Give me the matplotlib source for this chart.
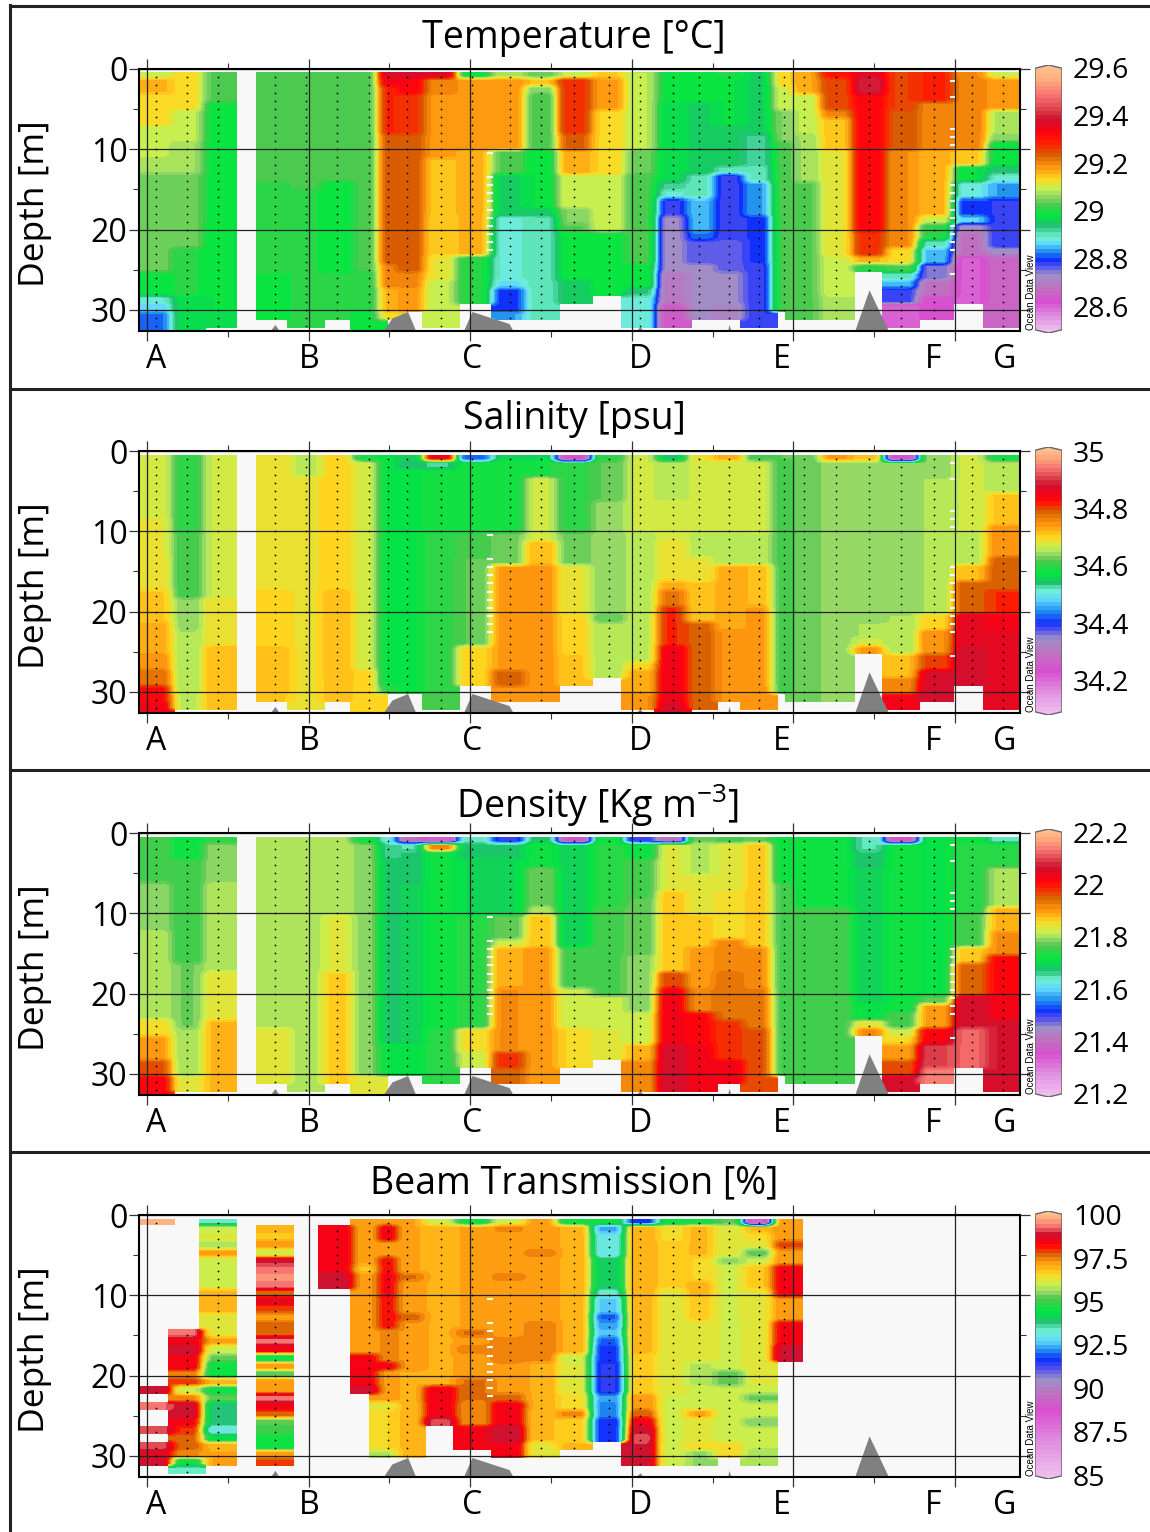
import numpy as np
import matplotlib
matplotlib.use('Agg')
import matplotlib.pyplot as plt
from matplotlib.colors import LinearSegmentedColormap
from matplotlib.lines import Line2D
from matplotlib.patches import Polygon

plt.rcParams['font.family'] = ['Open Sans', 'DejaVu Sans']
plt.rcParams['mathtext.default'] = 'regular'

W, H = 1150, 1532
n = float('nan')

# station positions along the section (km)
station_km = [5.6, 24.8, 44.2, 79.2, 98.4, 117.6, 137.4, 149.1, 160.9, 181.9, 201.1, 224.6, 243.8, 264.2,
              285.9, 305.1, 325.5, 341.3, 360.1, 378.7, 394.2, 406.6, 426.4, 446.8, 466.6, 487.3, 510.5, 529.4]
section_names = ['A', 'B', 'C', 'D', 'E', 'F', 'G']
section_km = [5.6, 100.5, 201.1, 305.1, 393.0, 486.5, 530.5]

# sea floor outline
bottom_km = [0, 74.9, 79.2, 82.9, 144.8, 151.6, 161.3, 167.1, 194.9, 201.1, 224.0, 227.7, 300.5, 305.1, 308.5,
             358.9, 360.1, 362.0, 437.2, 446.8, 459.8, 540]
bottom_depth = [33, 33, 31.8, 33, 33, 31.0, 30.2, 33, 33, 30.2, 31.7, 33, 33, 32.1, 33,
                33, 31.8, 33, 33, 27.5, 33, 33]

# small unfilled slits in the gridded field
slit_c_km = 212.3
slit_c_depth = [10.5, 13.5, 14.5, 15.5, 16.5, 17.5, 18.5, 19.5, 20.5, 21.5, 22.5]
slit_f_km = 498.8
slit_f_depth = [1.5, 3.5, 7.5, 8.5, 9.5, 14.5, 15.5, 16.5, 17.5, 18.5, 19.5, 20.5, 21.5, 22.5, 25.5]

# each station: (deepest row in m, value) runs, rows are 1 m thick
temperature = [
    [(1, 29.09), (3, 29.16), (7, 29.13), (11, 29.09), (13, 29.07), (25, 29.04), (28, 28.99), (29, 28.89), (30, 28.86), (33, 28.82)],
    [(5, 29.13), (9, 29.09), (13, 29.07), (22, 29.04), (28, 29.0), (33, 28.97)],
    [(4, 29.03), (19, 28.99), (30, 28.98), (32, 28.97)],
    [(14, 29.02), (25, 29.01), (31, 28.995)],
    [(15, 29.02), (32, 29.0)],
    [(14, 29.02), (25, 28.985), (31, 29.0)],
    [(25, 29.02), (30, 29.0), (33, 28.99)],
    [(1, 29.38), (2, 29.34), (8, 29.28), (24, 29.24), (27, 29.2), (30, 29.16), (31, 29.13)],
    [(1, 29.38), (3, 29.33), (8, 29.27), (25, 29.24), (27, 29.2), (30, 29.18)],
    [(1, 29.37), (3, 29.2), (11, 29.185), (18, 29.15), (23, 29.14), (26, 29.12), (32, 29.09)],
    [(1, 28.99), (10, 29.185), (23, 29.16), (29, 29.0)],
    [(1, 29.08), (10, 29.185), (13, 29.03), (18, 28.96), (26, 28.89), (27, 28.87), (30, 28.8), (31, 28.84)],
    [(1, 29.04), (2, 29.15), (3, 29.05), (10, 29.02), (17, 28.98), (18, 28.95), (31, 28.9)],
    [(1, 29.09), (8, 29.27), (10, 29.23), (13, 29.17), (17, 29.1), (19, 29.05), (20, 29.03), (26, 28.99), (29, 28.95)],
    [(1, 29.14), (5, 29.18), (13, 29.135), (20, 29.1), (28, 28.99)],
    [(10, 29.085), (13, 29.04), (24, 29.02), (27, 28.99), (28, 28.93), (32, 28.89)],
    [(4, 28.99), (14, 28.97), (15, 28.92), (16, 28.89), (18, 28.78), (25, 28.725), (29, 28.69), (32, 28.63)],
    [(4, 28.99), (13, 28.96), (16, 28.9), (20, 28.85), (21, 28.82), (24, 28.77), (31, 28.72)],
    [(1, 29.0), (7, 28.98), (12, 28.95), (13, 28.9), (21, 28.78), (25, 28.76), (29, 28.73), (31, 28.71)],
    [(8, 28.96), (12, 28.92), (14, 28.9), (18, 28.84), (24, 28.79), (32, 28.78)],
    [(2, 29.13), (5, 29.1), (9, 29.05), (30, 29.02)],
    [(3, 29.17), (8, 29.09), (14, 29.07), (31, 29.03)],
    [(1, 29.3), (5, 29.25), (6, 29.2), (10, 29.15), (23, 29.12), (28, 29.1), (31, 29.08)],
    [(1, 29.36), (3, 29.4), (20, 29.33), (23, 29.27), (24, 29.16), (25, 29.0)],
    [(5, 29.26), (10, 29.24), (22, 29.19), (24, 29.13), (25, 29.03), (26, 28.9), (27, 28.85), (29, 28.78), (32, 28.6)],
    [(4, 29.28), (10, 29.2), (18, 29.16), (19, 29.1), (21, 29.0), (22, 28.9), (24, 28.85), (26, 28.75), (28, 28.68), (31, 28.62)],
    [(1, 29.19), (10, 29.2), (12, 29.14), (14, 28.98), (16, 28.88), (18, 28.8), (19, 28.86), (20, 28.72), (23, 28.68), (29, 28.61)],
    [(1, 29.1), (5, 29.18), (8, 29.08), (9, 29.05), (12, 28.98), (13, 28.94), (14, 28.89), (16, 28.84), (22, 28.785), (23, 28.72), (32, 28.66)],
]

salinity = [
    [(8, 34.67), (13, 34.68), (17, 34.69), (21, 34.71), (25, 34.73), (27, 34.75), (29, 34.78), (31, 34.83), (33, 34.85)],
    [(10, 34.6), (18, 34.61), (22, 34.64), (30, 34.65), (32, 34.66)],
    [(18, 34.665), (24, 34.69), (32, 34.72)],
    [(17, 34.69), (24, 34.7), (30, 34.715), (31, 34.71)],
    [(3, 34.66), (32, 34.69)],
    [(17, 34.7), (28, 34.72), (31, 34.715)],
    [(1, 34.58), (27, 34.67), (33, 34.7)],
    [(29, 34.57), (30, 34.6)],
    [(1, 34.55), (2, 34.54), (30, 34.575)],
    [(1, 34.85), (2, 34.53), (10, 34.58), (30, 34.6), (32, 34.61)],
    [(1, 34.42), (10, 34.58), (13, 34.61), (24, 34.62), (29, 34.7)],
    [(1, 34.55), (10, 34.585), (14, 34.63), (27, 34.74), (29, 34.79), (31, 34.75)],
    [(1, 34.555), (3, 34.59), (11, 34.667), (14, 34.72), (31, 34.745)],
    [(1, 34.23), (10, 34.6), (14, 34.63), (20, 34.68), (25, 34.7), (29, 34.71)],
    [(1, 34.6), (6, 34.62), (20, 34.64), (21, 34.62), (28, 34.65)],
    [(10, 34.665), (20, 34.655), (26, 34.66), (27, 34.7), (30, 34.73), (32, 34.75)],
    [(1, 34.54), (6, 34.66), (11, 34.675), (16, 34.69), (17, 34.73), (19, 34.77), (24, 34.81), (31, 34.85), (33, 34.87)],
    [(1, 34.69), (10, 34.665), (13, 34.66), (16, 34.68), (21, 34.71), (32, 34.79)],
    [(1, 34.73), (10, 34.665), (14, 34.65), (22, 34.73), (31, 34.75)],
    [(1, 34.61), (10, 34.67), (14, 34.66), (19, 34.72), (29, 34.74), (32, 34.75)],
    [(1, 34.62), (30, 34.612)],
    [(1, 34.62), (31, 34.625)],
    [(1, 34.74), (31, 34.642)],
    [(1, 34.71), (21, 34.645), (23, 34.65), (24, 34.67), (25, 34.74)],
    [(1, 34.23), (20, 34.64), (25, 34.65), (28, 34.72), (30, 34.76), (32, 34.85)],
    [(3, 34.64), (20, 34.65), (22, 34.7), (25, 34.75), (27, 34.8), (29, 34.87), (31, 34.88)],
    [(10, 34.665), (14, 34.66), (16, 34.72), (20, 34.79), (24, 34.86), (29, 34.88)],
    [(1, 34.58), (5, 34.66), (9, 34.71), (13, 34.75), (17, 34.79), (20, 34.81), (22, 34.84), (32, 34.86)],
]

density = [
    [(6, 21.76), (12, 21.79), (23, 21.81), (25, 21.86), (28, 21.9), (30, 21.96), (33, 22.02)],
    [(3, 21.72), (16, 21.75), (24, 21.78), (30, 21.8), (32, 21.83)],
    [(1, 21.74), (6, 21.79), (17, 21.81), (23, 21.84), (32, 21.88)],
    [(24, 21.805), (31, 21.84)],
    [(32, 21.805)],
    [(10, 21.805), (17, 21.83), (31, 21.865)],
    [(1, 21.72), (30, 21.79), (33, 21.84)],
    [(1, 21.63), (3, 21.66), (26, 21.68), (30, 21.715)],
    [(1, 21.4), (2, 21.65), (6, 21.67), (26, 21.685), (30, 21.71)],
    [(1, 21.33), (2, 21.92), (24, 21.72), (31, 21.74)],
    [(1, 21.64), (3, 21.68), (10, 21.7), (24, 21.74), (27, 21.85), (29, 21.82)],
    [(1, 21.5), (3, 21.68), (10, 21.7), (13, 21.77), (14, 21.82), (19, 21.89), (27, 21.91), (29, 21.98), (31, 21.95)],
    [(1, 21.68), (4, 21.72), (9, 21.78), (10, 21.81), (14, 21.87), (31, 21.9)],
    [(1, 21.36), (14, 21.69), (19, 21.76), (24, 21.82), (29, 21.86)],
    [(1, 21.72), (9, 21.74), (20, 21.76), (24, 21.82), (28, 21.83)],
    [(1, 21.5), (3, 21.72), (8, 21.76), (15, 21.77), (22, 21.79), (26, 21.82), (28, 21.88), (32, 21.91)],
    [(1, 21.4), (7, 21.83), (17, 21.87), (19, 21.97), (26, 22.03), (32, 22.07)],
    [(1, 21.78), (5, 21.81), (10, 21.84), (14, 21.87), (19, 21.9), (22, 21.92), (26, 22.01), (32, 22.03)],
    [(1, 21.76), (7, 21.83), (13, 21.85), (17, 21.92), (23, 21.94), (28, 21.98), (31, 22.03)],
    [(1, 21.77), (14, 21.87), (19, 21.91), (24, 21.93), (32, 21.96)],
    [(6, 21.72), (30, 21.76)],
    [(9, 21.72), (31, 21.76)],
    [(9, 21.72), (31, 21.76)],
    [(2, 21.65), (4, 21.67), (21, 21.69), (23, 21.715), (24, 21.84), (25, 21.91)],
    [(1, 21.35), (22, 21.72), (24, 21.76), (25, 21.82), (26, 21.86), (28, 21.9), (30, 21.96), (32, 22.06)],
    [(20, 21.715), (21, 21.77), (24, 21.9), (26, 22.02), (29, 22.1), (31, 22.14)],
    [(1, 21.72), (10, 21.74), (14, 21.76), (16, 21.87), (20, 21.95), (24, 22.07), (29, 22.12)],
    [(1, 21.64), (4, 21.74), (9, 21.8), (12, 21.88), (15, 21.91), (20, 22.01), (23, 22.03), (32, 22.07)],
]

beam = [
    [(1, 99.8), (21, n), (22, 99.0), (23, n), (24, 99.3), (26, n), (27, 99.2), (28, n), (29, 99.2), (30, 98.6), (31, 98.9)],
    [(14, n), (15, 99.4), (16, 98.5), (17, 98.9), (19, 98.5), (20, 97.5), (21, 97.9), (22, 96.0), (23, 97.4), (25, 98.9), (26, 98.4), (27, 98.0), (29, 97.7), (30, 97.4), (31, 94.5), (32, 93.3)],
    [(1, 93.3), (2, 96.0), (3, 96.2), (4, 95.7), (5, 97.2), (9, 96.1), (12, 97.0), (15, 96.3), (16, 97.2), (17, 96.1), (18, 95.3), (20, 94.5), (21, 97.0), (22, 94.5), (23, 95.2), (26, 93.9), (27, 93.0), (28, 94.4), (29, 97.0), (31, 97.1)],
    [(1, n), (2, 96.9), (3, 96.8), (4, 97.3), (5, 96.1), (6, 99.0), (7, 99.3), (8, 99.6), (9, 99.4), (10, 97.8), (11, 98.6), (12, 97.9), (13, 97.2), (15, 97.8), (16, 99.3), (17, 98.3), (18, 94.5), (19, 97.3), (20, 95.2), (22, 97.3), (23, 99.3), (24, 98.5), (25, 97.8), (26, 95.2), (27, 95.0), (29, 94.6), (30, 97.2), (31, 97.9)],
    [],
    [(1, n), (7, 98.5), (9, 99.0)],
    [(6, 97.1), (7, 96.8), (17, 97.2), (21, 98.4), (22, 99.0)],
    [(1, 97.1), (3, 98.5), (5, 97.3), (7, 98.3), (10, 98.4), (14, 98.3), (18, 97.4), (19, 98.5), (23, 97.2), (24, 96.3), (29, 96.6), (30, 95.8)],
    [(7, 97.1), (8, 97.6), (12, 97.2), (13, 97.7), (19, 97.3), (23, 97.05), (30, 96.95)],
    [(1, 96.0), (21, 97.05), (25, 98.5), (26, 99.2)],
    [(1, 94.6), (14, 97.1), (15, 97.6), (16, 97.2), (17, 97.5), (20, 97.2), (23, 97.6), (26, 97.4), (29, 98.5)],
    [(1, 96.1), (2, 97.4), (7, 97.2), (8, 97.5), (15, 97.2), (18, 97.5), (22, 97.3), (23, 97.7), (26, 98.5), (28, 99.0), (30, 98.5)],
    [(4, 97.2), (5, 97.5), (13, 97.2), (18, 97.5), (24, 97.05), (28, 96.9), (30, 96.3)],
    [(1, 94.5), (17, 97.05), (18, 96.0), (22, 96.2), (24, 96.5), (25, 97.4), (28, 96.7), (29, 96.9)],
    [(1, 94.6), (2, 92.4), (5, 93.0), (9, 94.0), (10, 93.3), (12, 92.7), (13, 92.0), (14, 92.3), (15, 92.6), (16, 92.0), (18, 91.7), (22, 91.5), (23, 92.3), (25, 92.2), (28, 91.6)],
    [(1, 91.6), (10, 97.05), (17, 96.95), (22, 96.7), (24, 97.3), (25, 97.8), (26, 98.5), (27, 98.9), (28, 99.2), (31, 99.0)],
    [(1, 94.5), (3, 96.5), (9, 96.7), (22, 96.2), (31, 96.1)],
    [(1, 94.5), (5, 96.9), (8, 96.6), (10, 97.0), (13, 96.7), (18, 96.3), (21, 95.8), (24, 96.1), (25, 97.1), (28, 96.2), (29, 96.6), (31, 95.6)],
    [(1, 95.2), (5, 96.2), (6, 95.6), (19, 96.1), (21, 95.3), (28, 96.0), (30, 96.5)],
    [(1, 88.2), (2, 96.9), (3, 96.5), (4, 96.2), (5, 95.2), (6, 96.0), (9, 96.8), (13, 96.3), (21, 96.2), (22, 96.0), (23, 95.3), (25, 96.0), (26, 95.4), (29, 95.9), (31, 95.7)],
    [(3, 97.3), (4, 97.9), (6, 97.3), (10, 98.4), (13, 97.3), (16, 98.4), (18, 98.9)],
    [], [], [], [], [], [], [],
]

titles = ['Temperature [°C]', 'Salinity [psu]', 'Density [Kg m$^{-3}$]', 'Beam Transmission [%]']
panels = [temperature, salinity, density, beam]
bar_ticks = [[29.6, 29.4, 29.2, 29, 28.8, 28.6],
             [35, 34.8, 34.6, 34.4, 34.2],
             [22.2, 22, 21.8, 21.6, 21.4, 21.2],
             [100, 97.5, 95, 92.5, 90, 87.5, 85]]
bar_labels = [['29.6', '29.4', '29.2', '29', '28.8', '28.6'],
              ['35', '34.8', '34.6', '34.4', '34.2'],
              ['22.2', '22', '21.8', '21.6', '21.4', '21.2'],
              ['100', '97.5', '95', '92.5', '90', '87.5', '85']]
bar_range = [(28.49, 29.61), (34.08, 35.014), (21.185, 22.215), (84.77, 100.23)]

cmap_colors = ['#f0c0f0', '#e090e0', '#d850d0', '#c070c0', '#a090c8', '#5050f0', '#1030ff', '#2090f0', '#60d8ff',
               '#70f0d0', '#20c070', '#00e840', '#50c850', '#90d868', '#c8f050', '#ffd820', '#ff9810', '#d86000',
               '#ff2000', '#ff0010', '#d01030', '#e04850', '#f87070', '#ffb080', '#ffc090']
cmap_stops = [
    [0, .055, .11, .16, .21, .245, .27, .30, .33, .355, .40, .44, .478, .51, .54, .575, .62, .665, .71, .755, .80, .845, .89, .955, 1],
    [0, .08, .155, .22, .28, .315, .342, .385, .43, .466, .49, .528, .578, .60, .627, .665, .714, .764, .79, .814, .863, .895, .925, .975, 1],
    [0, .08, .155, .205, .255, .29, .32, .36, .40, .44, .47, .515, .565, .59, .615, .658, .70, .75, .785, .814, .863, .895, .925, .975, 1],
    [0, .13, .255, .31, .366, .41, .447, .48, .515, .553, .59, .627, .677, .70, .727, .77, .814, .845, .865, .882, .92, .935, .95, .98, 1],
]

panel_top = [69, 451, 833, 1215]
title_x = [574, 574, 598, 574]
title_y = [38, 419, 805, 1183]

AX_LEFT, AX_RIGHT, AX_H = 139, 1020, 262
PX_PER_KM = 1.616
KM0 = 147
XLIM = ((AX_LEFT - KM0) / PX_PER_KM, (AX_RIGHT - KM0) / PX_PER_KM)
YLIM = (AX_H / 8.03, 0)
REACH_KM = 11.8


def rows_from_runs(runs, nrows=33):
    col = np.full(nrows, np.nan)
    top = 0
    for last, val in runs:
        col[top:last] = val
        top = last
    return col


def smooth(field, size, axis):
    # box smoothing that does not leak over the empty cells
    kernel = np.ones(size)
    ok = ~np.isnan(field)
    filled = np.where(ok, field, 0.0)
    top = np.apply_along_axis(np.convolve, axis, filled, kernel, mode='same')
    bot = np.apply_along_axis(np.convolve, axis, ok.astype(float), kernel, mode='same')
    with np.errstate(invalid='ignore', divide='ignore'):
        out = top / bot
    out[~ok] = np.nan
    return out


def make_field(stations):
    table = np.array([rows_from_runs(s) for s in stations])
    stn_km = np.array(station_km)
    nx, ny = AX_RIGHT - AX_LEFT, AX_H
    km = XLIM[0] + (np.arange(nx) + .5) / nx * (XLIM[1] - XLIM[0])
    depth = (np.arange(ny) + .5) / ny * YLIM[0]
    field = np.full((ny, nx), np.nan)
    for j in range(ny):
        if depth[j] < .5:
            continue
        # rows sit slightly above their nominal depth in the gridded picture
        row = min(int(np.round(depth[j] + .25)) - 1, 32)
        valid = ~np.isnan(table[:, row])
        if not valid.any():
            continue
        # each pixel takes the nearest station that has a sample at this depth
        near = np.abs(km[:, None] - stn_km[valid][None, :]).argmin(axis=1)
        line = table[valid, row][near]
        line[np.abs(km - stn_km[valid][near]) > REACH_KM] = np.nan
        field[j] = line
    field = smooth(smooth(field, 11, 1), 11, 1)
    field = smooth(field, 5, 0)
    return field, table


fig = plt.figure(figsize=(W / 100, H / 100), dpi=100)

for i in range(4):
    top = panel_top[i]
    ax = fig.add_axes([AX_LEFT / W, 1 - (top + AX_H) / H, (AX_RIGHT - AX_LEFT) / W, AX_H / H])
    ax.set_facecolor('#f8f8f8')
    vmin, vmax = bar_range[i]
    cmap = LinearSegmentedColormap.from_list('odv%d' % i, list(zip(cmap_stops[i], cmap_colors)), N=64)

    field, table = make_field(panels[i])
    ax.imshow(field, extent=[XLIM[0], XLIM[1], YLIM[0], 0], aspect='auto', cmap=cmap, vmin=vmin, vmax=vmax,
              interpolation='nearest', zorder=1)
    ax.fill_between(bottom_km, bottom_depth, 33, color='#808080', lw=0, zorder=2)

    # white slits, the one near F only shows where that part of the section has data
    ax.scatter([slit_c_km] * len(slit_c_depth), slit_c_depth, s=14, c='white', marker='_', lw=1.5, zorder=2.2)
    if i < 3:
        ax.scatter([slit_f_km] * len(slit_f_depth), slit_f_depth, s=14, c='white', marker='_', lw=1.5, zorder=2.2)

    # sample dots
    dots_x, dots_d = np.nonzero(~np.isnan(table))
    ax.scatter(np.array(station_km)[dots_x], dots_d + 1, s=1.6, c='k', lw=0, zorder=3)

    ax.set_xlim(XLIM)
    ax.set_ylim(YLIM)
    ax.set_xticks(np.arange(0, 501, 100))
    ax.set_xticks(np.arange(50, 500, 100), minor=True)
    ax.set_yticks([0, 10, 20, 30])
    ax.set_yticks([5, 15, 25], minor=True)
    ax.set_xticklabels([])
    ax.grid(True, which='major', color='#222222', lw=0.9)
    ax.set_axisbelow(False)
    ax.tick_params(which='major', length=7.2, width=0.9, color='#333333', top=True, right=True, labelsize=23, pad=1)
    ax.tick_params(which='minor', length=4.5, width=0.8, color='#333333', top=True, right=True)
    for sp in ax.spines.values():
        sp.set_linewidth(1.5)
        sp.set_zorder(5)

    trans = ax.get_xaxis_transform()
    for name, km in zip(section_names, section_km):
        ax.text(km, -0.11, name, transform=trans, ha='center', va='center', fontsize=23)
    ax.text(1.0065, 0.005, 'Ocean Data View', transform=ax.transAxes, rotation=90, ha='left', va='bottom',
            fontsize=7, family=['Liberation Sans'])

    fig.text(title_x[i] / W, 1 - title_y[i] / H, titles[i], ha='center', va='center', fontsize=27)
    fig.text(35 / W, 1 - (top + 135) / H, 'Depth [m]', rotation=90, ha='center', va='center', fontsize=25.5)

    # colour bar with pointed ends
    cax = fig.add_axes([1035 / W, 1 - (top + 264) / H, 27 / W, 268 / H])
    grad = np.linspace(vmax, vmin, 64)[:, None]
    im = cax.imshow(grad, extent=[0, 1, vmin, vmax], aspect='auto', cmap=cmap, vmin=vmin, vmax=vmax,
                    interpolation='nearest')
    tip = 0.012 * (vmax - vmin)
    outline = [(0, vmin + tip), (.5, vmin), (1, vmin + tip), (1, vmax - tip), (.5, vmax), (0, vmax - tip)]
    patch = Polygon(outline, closed=True, fc='none', ec='#666666', lw=1, transform=cax.transData)
    cax.add_patch(patch)
    im.set_clip_path(patch)
    cax.set_xlim(0, 1)
    cax.set_ylim(vmin, vmax)
    cax.set_xticks([])
    cax.yaxis.tick_right()
    cax.set_yticks(bar_ticks[i])
    cax.set_yticklabels(bar_labels[i])
    cax.tick_params(axis='y', length=0, pad=8, labelsize=20.5)
    for sp in cax.spines.values():
        sp.set_visible(False)

# black frame round the panels
for y in [6, 389, 770, 1152]:
    fig.add_artist(Line2D([10 / W, 1], [1 - y / H, 1 - y / H], color='#222222', lw=2.2))
fig.add_artist(Line2D([10 / W, 10 / W], [0, 1 - 5 / H], color='#222222', lw=2.2))

plt.savefig('out.png', dpi=100)
